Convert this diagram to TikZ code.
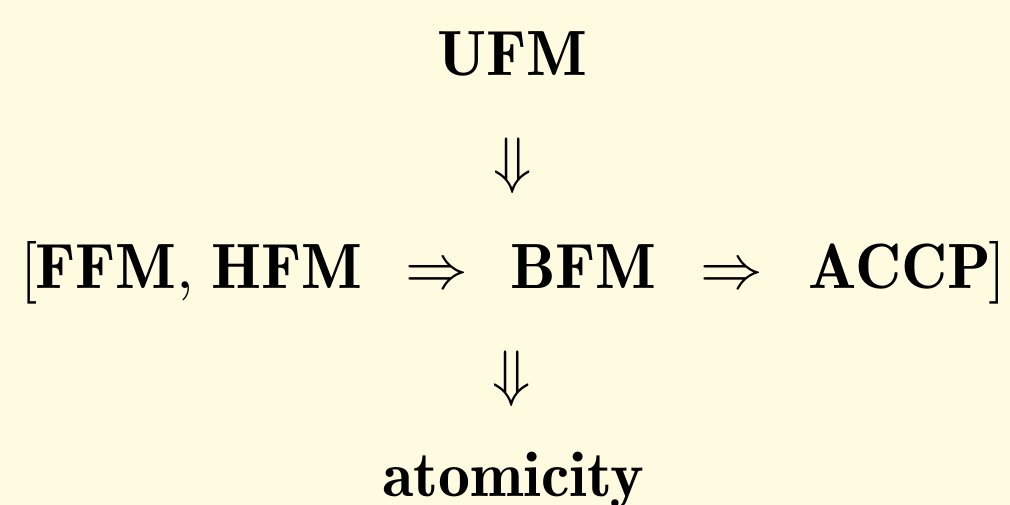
\documentclass[tikz,border=0pt]{standalone}
\definecolor{paper}{RGB}{255,251,224}
\tikzset{
  term/.style={inner sep=0pt, anchor=base, scale=1.82, transform shape,
    font=\usefont{OT1}{cmr}{b}{n}},
  sym/.style={inner sep=0pt, scale=1.784, transform shape}
}
\begin{document}
\begin{tikzpicture}
  \fill[paper] (0,0) rectangle (10.10,-5.05);
  \useasboundingbox (0,0) rectangle (10.10,-5.05);

  % top
  \node[term] (ufm) at (5.125,-0.75) {UFM};
  \node[sym] (down1) at (5.13,-1.66) {$\Downarrow$};

  % middle row
  \node[sym, anchor=base] (lbr) at (0.29,-2.88) {$[$};
  \node[term] (ffm) at (1.15,-2.88) {FFM$,$};
  \node[term] (hfm) at (2.87,-2.88) {HFM};
  \node[sym, anchor=base] (imp1) at (4.365,-2.88) {$\Rightarrow$};
  \node[term] (bfm) at (5.835,-2.88) {BFM};
  \node[sym, anchor=base] (imp2) at (7.315,-2.88) {$\Rightarrow$};
  \node[term] (accp) at (9.00,-2.88) {ACCP};
  \node[sym, anchor=base] (rbr) at (9.967,-2.88) {$]$};

  % bottom
  \node[sym] (down2) at (5.12,-3.785) {$\Downarrow$};
  \node[term] (atom) at (5.135,-4.96) {atomicity};
\end{tikzpicture}
\end{document}
